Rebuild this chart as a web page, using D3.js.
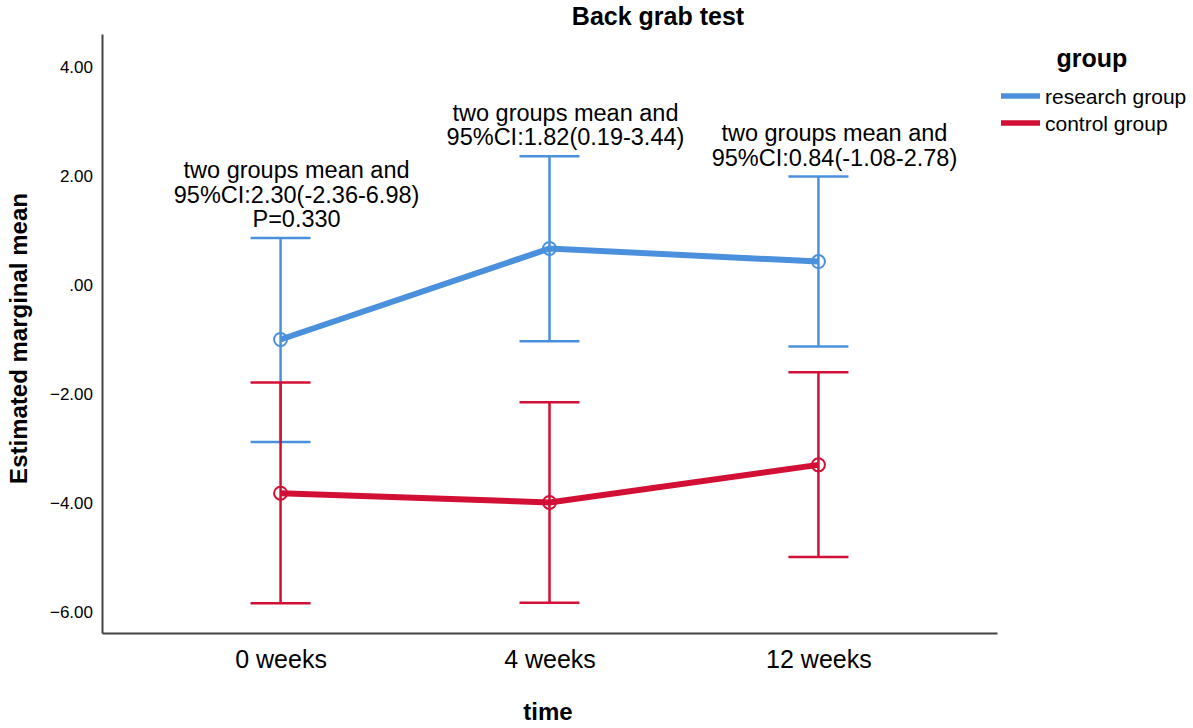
<!DOCTYPE html>
<html>
<head>
<meta charset="utf-8">
<script src="https://cdn.jsdelivr.net/npm/d3@7"></script>
<style>
  body { margin: 0; background: #fff; }
  svg { display: block; font-family: "Liberation Sans", Arial, sans-serif; }
</style>
</head>
<body>
<div id="chart"></div>
<script>
// 데이터
const times = ["0 weeks", "4 weeks", "12 weeks"];
const groups = ["research group", "control group"];
const researchMean = [-1.00, 0.67, 0.43];
const researchLow = [-2.88, -1.03, -1.13];
const researchHigh = [0.86, 2.36, 1.99];
const controlMean = [-3.82, -3.99, -3.30];
const controlLow = [-5.84, -5.83, -4.99];
const controlHigh = [-1.79, -2.15, -1.60];
const yTicks = [4, 2, 0, -2, -4, -6];
const notes = [
  ["two groups mean and", "95%CI:2.30(-2.36-6.98)", "P=0.330"],
  ["two groups mean and", "95%CI:1.82(0.19-3.44)"],
  ["two groups mean and", "95%CI:0.84(-1.08-2.78)"]
];

const width = 1193, height = 728;
const plotL = 102, plotR = 997, plotT = 34, plotB = 633;
const colors = ["#4a90dc", "#d20f34"];

const svg = d3.select("#chart").append("svg")
  .attr("width", width).attr("height", height);

const x = d3.scalePoint().domain(times).range([plotL, plotR]).padding(0.664);
const y = d3.scaleLinear().domain([-6.385, 4.605]).range([plotB, plotT]);

// 축
const fmt = v => v === 0 ? ".00" : d3.format(".2f")(v);
svg.append("g")
  .attr("transform", `translate(${plotL},0)`)
  .call(d3.axisLeft(y).tickValues(yTicks).tickFormat(fmt).tickSize(0).tickPadding(9))
  .call(g => g.select(".domain").attr("stroke", "#444").attr("stroke-width", 2))
  .call(g => g.selectAll("text").attr("font-size", 17).attr("fill", "#000")
    .attr("font-family", "Liberation Sans, Arial, sans-serif"));

svg.append("g")
  .attr("transform", `translate(0,${plotB})`)
  .call(d3.axisBottom(x).tickSize(0).tickPadding(17))
  .call(g => g.select(".domain").attr("stroke", "#444").attr("stroke-width", 2))
  .call(g => g.selectAll("text").attr("font-size", 25).attr("fill", "#000")
    .attr("font-family", "Liberation Sans, Arial, sans-serif"));

// 제목, 축 이름
svg.append("text").attr("x", 658).attr("y", 25).attr("text-anchor", "middle")
  .attr("font-size", 25).attr("font-weight", "bold").text("Back grab test");
svg.append("text").attr("x", 548).attr("y", 720).attr("text-anchor", "middle")
  .attr("font-size", 24).attr("font-weight", "bold").text("time");
svg.append("text").attr("transform", `translate(27,${(plotT + plotB) / 2 + 5}) rotate(-90)`)
  .attr("text-anchor", "middle").attr("font-size", 24).attr("font-weight", "bold")
  .text("Estimated marginal mean");

// 시리즈
const series = [
  { name: groups[0], mean: researchMean, low: researchLow, high: researchHigh, color: colors[0] },
  { name: groups[1], mean: controlMean, low: controlLow, high: controlHigh, color: colors[1] }
];

const line = d3.line().x((d, i) => x(times[i])).y(d => y(d));
const cap = 30;

series.forEach(s => {
  const g = svg.append("g");
  times.forEach((t, i) => {
    const cx = x(t);
    g.append("line").attr("x1", cx).attr("x2", cx)
      .attr("y1", y(s.low[i])).attr("y2", y(s.high[i]))
      .attr("stroke", s.color).attr("stroke-width", 2.5);
    [s.low[i], s.high[i]].forEach(v => {
      g.append("line").attr("x1", cx - cap).attr("x2", cx + cap)
        .attr("y1", y(v)).attr("y2", y(v))
        .attr("stroke", s.color).attr("stroke-width", 2.5);
    });
  });
  g.append("path").datum(s.mean).attr("d", line)
    .attr("fill", "none").attr("stroke", s.color).attr("stroke-width", 6);
  g.selectAll("circle").data(s.mean).join("circle")
    .attr("cx", (d, i) => x(times[i])).attr("cy", d => y(d)).attr("r", 6.5)
    .attr("fill", "none").attr("stroke", s.color).attr("stroke-width", 2);
});

// 주석
notes.forEach((lines, i) => {
  const base = y(researchHigh[i]) - 11 - (lines.length - 1) * 24.5;
  const t = svg.append("text").attr("text-anchor", "middle").attr("font-size", 23.5);
  lines.forEach((l, j) => {
    t.append("tspan").attr("x", x(times[i]) + 16).attr("y", base + j * 24.5).text(l);
  });
});

// 범례
svg.append("text").attr("x", 1092).attr("y", 67).attr("text-anchor", "middle")
  .attr("font-size", 25).attr("font-weight", "bold").text("group");
series.forEach((s, i) => {
  const ly = 96 + i * 27;
  svg.append("line").attr("x1", 1001).attr("x2", 1040).attr("y1", ly).attr("y2", ly)
    .attr("stroke", s.color).attr("stroke-width", 5.5);
  svg.append("text").attr("x", 1045).attr("y", ly + 8).attr("font-size", 21).text(s.name);
});
</script>
</body>
</html>
